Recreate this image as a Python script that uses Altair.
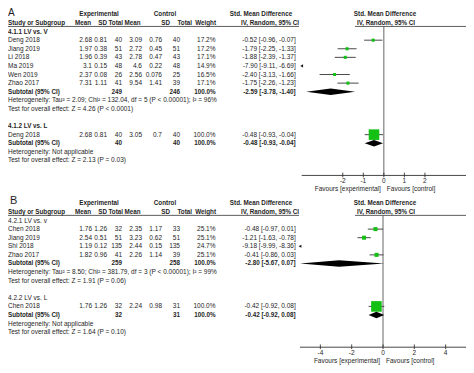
import altair as alt
import pandas as pd

FONT = "Liberation Sans"
FS = 6.5
FSB = 6.3
TXT = "#1e1e1e"
GREEN = "#14c014"
CI_COL = "#4a4a4a"

# ---------------- Panel A, 4.1.1 LV vs. V ----------------
a1_study = ["Deng 2018", "Jiang 2019", "Li 2018", "Ma 2019", "Wen 2019", "Zhao 2017"]
a1_e_mean = ["2.68", "1.97", "1.96", "3.1", "2.37", "7.31"]
a1_e_sd = ["0.81", "0.38", "0.39", "0.15", "0.08", "1.11"]
a1_e_n = ["40", "51", "43", "48", "26", "41"]
a1_c_mean = ["3.09", "2.72", "2.78", "4.6", "2.56", "9.54"]
a1_c_sd = ["0.76", "0.45", "0.47", "0.22", "0.076", "1.41"]
a1_c_n = ["40", "51", "43", "48", "25", "39"]
a1_weight = [17.2, 17.2, 17.1, 14.9, 16.5, 17.1]
a1_smd = [-0.52, -1.79, -1.88, -7.90, -2.40, -1.75]
a1_lo = [-0.96, -2.25, -2.39, -9.11, -3.13, -2.26]
a1_hi = [-0.07, -1.33, -1.37, -6.69, -1.66, -1.23]
a1_totals = ["249", "246"]
a1_pooled = [-2.59, -3.78, -1.40]
a1_het = "Heterogeneity: Tau² = 2.09; Chi² = 132.04, df = 5 (P < 0.00001); I² = 96%"
a1_test = "Test for overall effect: Z = 4.26 (P < 0.0001)"

# ---------------- Panel A, 4.1.2 LV vs. L ----------------
a2_study = ["Deng 2018"]
a2_e_mean = ["2.68"]
a2_e_sd = ["0.81"]
a2_e_n = ["40"]
a2_c_mean = ["3.05"]
a2_c_sd = ["0.7"]
a2_c_n = ["40"]
a2_weight = [100.0]
a2_smd = [-0.48]
a2_lo = [-0.93]
a2_hi = [-0.04]
a2_totals = ["40", "40"]
a2_pooled = [-0.48, -0.93, -0.04]
a2_het = "Heterogeneity: Not applicable"
a2_test = "Test for overall effect: Z = 2.13 (P = 0.03)"

# ---------------- Panel B, 4.2.1 LV vs. v ----------------
b1_study = ["Chen 2018", "Jiang 2019", "Shi 2018", "Zhao 2017"]
b1_e_mean = ["1.76", "2.54", "1.19", "1.82"]
b1_e_sd = ["1.26", "0.51", "0.12", "0.96"]
b1_e_n = ["32", "51", "135", "41"]
b1_c_mean = ["2.35", "3.23", "2.44", "2.26"]
b1_c_sd = ["1.17", "0.62", "0.15", "1.14"]
b1_c_n = ["33", "51", "135", "39"]
b1_weight = [25.1, 25.1, 24.7, 25.1]
b1_smd = [-0.48, -1.21, -9.18, -0.41]
b1_lo = [-0.97, -1.63, -9.99, -0.86]
b1_hi = [0.01, -0.78, -8.36, 0.03]
b1_totals = ["259", "258"]
b1_pooled = [-2.80, -5.67, 0.07]
b1_het = "Heterogeneity: Tau² = 8.50; Chi² = 381.79, df = 3 (P < 0.00001); I² = 99%"
b1_test = "Test for overall effect: Z = 1.91 (P = 0.06)"

# ---------------- Panel B, 4.2.2 LV vs. L ----------------
b2_study = ["Chen 2018"]
b2_e_mean = ["1.76"]
b2_e_sd = ["1.26"]
b2_e_n = ["32"]
b2_c_mean = ["2.24"]
b2_c_sd = ["0.98"]
b2_c_n = ["31"]
b2_weight = [100.0]
b2_smd = [-0.42]
b2_lo = [-0.92]
b2_hi = [0.08]
b2_totals = ["32", "31"]
b2_pooled = [-0.42, -0.92, 0.08]
b2_het = "Heterogeneity: Not applicable"
b2_test = "Test for overall effect: Z = 1.64 (P = 0.10)"

ticks_a = [-2, -1, 0, 1, 2]
ticks_b = [-4, -2, 0, 2, 4]
dom_a = [-4, 4]
dom_b = [-5.3, 5.3]

# ---------------- build tables ----------------
cells, marks, diamonds = [], [], []
H = 0.38


def add(row, col, text, bold=False):
    cells.append(dict(row=row, col=col, text=text, bold=bold))


def fmt(e, l, h):
    return f"{e:.2f} [{l:.2f}, {h:.2f}]"


def header(base):
    add(base - 1, "h_exp", "Experimental", True)
    add(base - 1, "h_ctl", "Control", True)
    add(base - 1, "h_smd1", "Std. Mean Difference", True)
    add(base - 1, "h_f1", "Std. Mean Difference", True)
    add(base, "study", "Study or Subgroup", True)
    add(base, "h_em", "Mean", True)
    add(base, "h_es", "SD", True)
    add(base, "h_en", "Total", True)
    add(base, "h_cm", "Mean", True)
    add(base, "h_cs", "SD", True)
    add(base, "h_cn", "Total", True)
    add(base, "h_w", "Weight", True)
    add(base, "h_smd2", "IV, Random, 95% CI", True)
    add(base, "h_f2", "IV, Random, 95% CI", True)


def subgroup(panel, start, title, tbold, study, em, es, en, cm, cs, cn, w, smd, lo, hi, tot, pooled, het, test):
    r = start
    add(r, "study", title, tbold)
    r += 1
    for i in range(len(study)):
        add(r, "study", study[i])
        add(r, "em", em[i]); add(r, "es", es[i]); add(r, "en", en[i])
        add(r, "cm", cm[i]); add(r, "cs", cs[i]); add(r, "cn", cn[i])
        add(r, "w", f"{w[i]:.1f}%")
        add(r, "smd", fmt(smd[i], lo[i], hi[i]))
        marks.append(dict(panel=panel, row=r, smd=smd[i], lo=lo[i], hi=hi[i], w=w[i]))
        r += 1
    add(r, "study", "Subtotal (95% CI)", True)
    add(r, "en", tot[0], True)
    add(r, "cn", tot[1], True)
    add(r, "w", "100.0%", True)
    add(r, "smd", fmt(*pooled), True)
    e, l, h = pooled
    g = f"{panel}{start}"
    diamonds.append(dict(panel=panel, grp=g, x=l, yt=r, yb=r))
    diamonds.append(dict(panel=panel, grp=g, x=e, yt=r - H, yb=r + H))
    diamonds.append(dict(panel=panel, grp=g, x=h, yt=r, yb=r))
    r += 1
    add(r, "study", het)
    r += 1
    add(r, "study", test)


header(0)
subgroup("A", 1, "4.1.1 LV vs. V", True, a1_study, a1_e_mean, a1_e_sd, a1_e_n, a1_c_mean, a1_c_sd, a1_c_n,
         a1_weight, a1_smd, a1_lo, a1_hi, a1_totals, a1_pooled, a1_het, a1_test)
subgroup("A", 12, "4.1.2 LV vs. L", True, a2_study, a2_e_mean, a2_e_sd, a2_e_n, a2_c_mean, a2_c_sd, a2_c_n,
         a2_weight, a2_smd, a2_lo, a2_hi, a2_totals, a2_pooled, a2_het, a2_test)
header(22)
subgroup("B", 23, "4.2.1 LV vs. v", False, b1_study, b1_e_mean, b1_e_sd, b1_e_n, b1_c_mean, b1_c_sd, b1_c_n,
         b1_weight, b1_smd, b1_lo, b1_hi, b1_totals, b1_pooled, b1_het, b1_test)
subgroup("B", 32, "4.2.2 LV vs. L", False, b2_study, b2_e_mean, b2_e_sd, b2_e_n, b2_c_mean, b2_c_sd, b2_c_n,
         b2_weight, b2_smd, b2_lo, b2_hi, b2_totals, b2_pooled, b2_het, b2_test)

cells_df = pd.DataFrame(cells)
marks_df = pd.DataFrame(marks)
dia_df = pd.DataFrame(diamonds)

# ---------------- layout ----------------
W, HT = 458, 357
YS = alt.Scale(domain=[-1.7466, 39.823], range=[0, HT])

col_spec = {
    "study": (0, "left"),
    "em": (84, "right"), "es": (99, "right"), "en": (114, "right"),
    "cm": (134, "right"), "cs": (154, "right"), "cn": (172, "right"),
    "w": (207.5, "right"), "smd": (287.7, "right"),
    "h_exp": (91, "center"), "h_ctl": (157, "center"),
    "h_smd1": (253, "center"), "h_smd2": (262, "center"),
    "h_f1": (377, "center"), "h_f2": (378, "center"),
    "h_em": (83, "right"), "h_es": (99, "right"), "h_en": (115, "right"),
    "h_cm": (116.5, "left"), "h_cs": (162, "right"), "h_cn": (184, "right"),
    "h_w": (208, "right"),
}

layers = []
for col, (xp, al) in col_spec.items():
    for b in (False, True):
        sub = cells_df[(cells_df.col == col) & (cells_df.bold == b)]
        if len(sub) == 0:
            continue
        layers.append(
            alt.Chart(sub).mark_text(align=al, baseline="middle", font=FONT, fontSize=FSB if b else FS,
                                     fontWeight="bold" if b else "normal", color=TXT)
            .encode(x=alt.value(xp), y=alt.Y("row:Q", scale=YS, axis=None), text="text:N")
        )

# panel letters
letters = pd.DataFrame({"t": ["A", "B"], "row": [-1.7466, 21.13]})
layers.append(alt.Chart(letters[letters.t == "A"]).mark_text(align="left", baseline="top", font=FONT,
              fontSize=10, color=TXT).encode(x=alt.value(0), y=alt.Y("row:Q", scale=YS, axis=None), text="t:N"))
layers.append(alt.Chart(letters[letters.t == "B"]).mark_text(align="left", baseline="alphabetic", font=FONT,
              fontSize=11, color=TXT).encode(x=alt.value(2), y=alt.Y("row:Q", scale=YS, axis=None), text="t:N"))

# header underlines
ul = pd.DataFrame({"row": [0.4, 22.4]})
layers.append(alt.Chart(ul).mark_rule(color="#333333", strokeWidth=0.8).encode(
    x=alt.value(0), x2=alt.value(291), y=alt.Y("row:Q", scale=YS, axis=None)))
layers.append(alt.Chart(ul).mark_rule(color="#333333", strokeWidth=0.8).encode(
    x=alt.value(347), x2=alt.value(458), y=alt.Y("row:Q", scale=YS, axis=None)))


def forest(panel, dom, rng, ticks, top, axis_row):
    XS = alt.Scale(domain=dom, range=rng, clamp=True, nice=False, zero=False)
    out = []
    m = marks_df[marks_df.panel == panel]
    inr = m[m.hi >= dom[0]]
    off = m[m.hi < dom[0]]
    zl = pd.DataFrame({"v": [0], "r1": [top], "r2": [axis_row]})
    out.append(alt.Chart(zl).mark_rule(color="#555555", strokeWidth=0.9).encode(
        x=alt.X("v:Q", scale=XS, axis=None), y=alt.Y("r1:Q", scale=YS, axis=None), y2="r2:Q"))
    al_df = pd.DataFrame({"a": [dom[0]], "b": [dom[1]], "r": [axis_row]})
    out.append(alt.Chart(al_df).mark_rule(color="#333333", strokeWidth=0.9).encode(
        x=alt.X("a:Q", scale=XS, axis=None), x2="b:Q", y=alt.Y("r:Q", scale=YS, axis=None)))
    tk = pd.DataFrame({"v": ticks, "r1": [axis_row - 0.32] * len(ticks), "r2": [axis_row + 0.22] * len(ticks),
                       "rl": [axis_row + 0.64] * len(ticks), "lab": [str(t) for t in ticks]})
    out.append(alt.Chart(tk).mark_rule(color="#333333", strokeWidth=0.9).encode(
        x=alt.X("v:Q", scale=XS, axis=None), y=alt.Y("r1:Q", scale=YS, axis=None), y2="r2:Q"))
    out.append(alt.Chart(tk).mark_text(font=FONT, fontSize=FS, color=TXT, baseline="middle").encode(
        x=alt.X("v:Q", scale=XS, axis=None), y=alt.Y("rl:Q", scale=YS, axis=None), text="lab:N"))
    fav = pd.DataFrame({"v": [0], "r": [axis_row + 1.55]})
    out.append(alt.Chart(fav).mark_text(font=FONT, fontSize=FS, color=TXT, baseline="middle", align="right", dx=-3,
                                        text="Favours [experimental]").encode(
        x=alt.X("v:Q", scale=XS, axis=None), y=alt.Y("r:Q", scale=YS, axis=None)))
    out.append(alt.Chart(fav).mark_text(font=FONT, fontSize=FS, color=TXT, baseline="middle", align="left", dx=3,
                                        text="Favours [control]").encode(
        x=alt.X("v:Q", scale=XS, axis=None), y=alt.Y("r:Q", scale=YS, axis=None)))
    out.append(alt.Chart(inr).mark_rule(color=CI_COL, strokeWidth=1).encode(
        x=alt.X("lo:Q", scale=XS, axis=None), x2="hi:Q", y=alt.Y("row:Q", scale=YS, axis=None)))
    out.append(alt.Chart(inr).mark_square(color=GREEN, opacity=1, filled=True).encode(
        x=alt.X("smd:Q", scale=XS, axis=None), y=alt.Y("row:Q", scale=YS, axis=None),
        size=alt.Size("w:Q", scale=alt.Scale(type="pow", exponent=1.4, domain=[0, 100], range=[0, 112]), legend=None)))
    if len(off):
        out.append(alt.Chart(off).mark_point(shape="triangle-left", filled=True, color="#111111", size=10, opacity=1).encode(
            x=alt.X("smd:Q", scale=XS, axis=None), y=alt.Y("row:Q", scale=YS, axis=None)))
    d = dia_df[dia_df.panel == panel]
    out.append(alt.Chart(d).mark_area(color="#000000", orient="vertical", opacity=1).encode(
        x=alt.X("x:Q", scale=XS, axis=None), y=alt.Y("yt:Q", scale=YS, axis=None), y2="yb:Q", detail="grp:N"))
    return out


layers += forest("A", dom_a, [293.7, 458], ticks_a, 0.4, 17.75)
layers += forest("B", dom_b, [292, 458], ticks_b, 22.4, 37.75)

chart = alt.layer(*layers).resolve_scale(x="independent").properties(
    width=W, height=HT, padding=0, autosize=alt.AutoSizeParams(type="none")
).configure_view(stroke=None)

chart.save("out.html", embed_options={"renderer": "svg", "actions": False})
